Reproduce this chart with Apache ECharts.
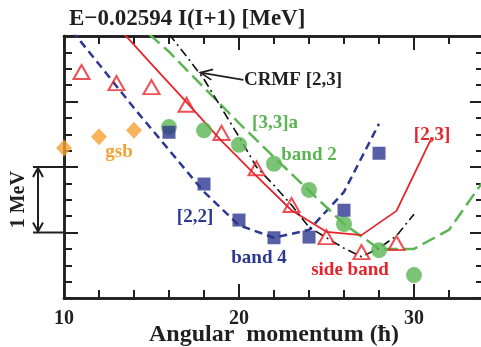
<!DOCTYPE html>
<html><head><meta charset="utf-8">
<script src="https://cdn.jsdelivr.net/npm/echarts@6/dist/echarts.min.js"></script>
<style>html,body{margin:0;padding:0;background:#fff;overflow:hidden}#c{width:481px;height:347px}</style>
</head><body><div id="c"></div>
<script>
// ---- data (spin I in hbar, energy E - 0.02594 I(I+1) in MeV, relative) ----
const gsbSpin = [10, 12, 14];
const gsbE = [2.29, 2.46, 2.56];
const band2Spin = [16, 18, 20, 22, 24, 26, 28, 30];
const band2E = [2.61, 2.56, 2.34, 2.05, 1.65, 1.13, 0.73, 0.35];
const band4Spin = [16, 18, 20, 22, 24, 26, 28];
const band4E = [2.53, 1.74, 1.19, 0.92, 0.93, 1.34, 2.21];
const sideSpin = [11, 13, 15, 17, 19, 21, 23, 25, 27, 29];
const sideE = [3.45, 3.28, 3.22, 2.95, 2.52, 1.98, 1.42, 0.93, 0.70, 0.84];
const th22Spin = [10, 12, 14, 16, 18, 20, 22, 24, 26, 28];
const th22E = [4.23, 3.57, 2.90, 2.26, 1.62, 1.11, 0.92, 1.04, 1.62, 2.66];
const th23Spin = [13, 15, 17, 19, 21, 23, 25, 27, 29, 31];
const th23E = [4.16, 3.57, 2.99, 2.40, 1.86, 1.34, 1.01, 0.96, 1.33, 2.44];
const th33Spin = [14, 16, 18, 20, 22, 24, 26, 28, 30, 32, 34];
const th33E = [4.23, 3.76, 3.21, 2.67, 2.15, 1.64, 1.13, 0.75, 0.75, 1.04, 1.80];
const crmfSpin = [16, 17, 18, 19, 20, 21, 22, 23, 24, 25, 26, 27, 28, 29, 30];
const crmfE = [4.03, 3.69, 3.34, 2.90, 2.46, 2.00, 1.72, 1.42, 1.08, 0.92, 0.76, 0.63, 0.76, 0.95, 1.28];
const xTickLabels = [10, 20, 30];
const scaleBar = [1, 2];           // the "1 MeV" bar spans E=1..2
const crmfArrow = [[20.25, 3.33], [17.8, 3.44]]; // tail, tip (data coords)

const FONT = '"Liberation Serif","Times New Roman",serif';
const AX = '#231f20';
const RED = '#e8242b', GREEN = '#5bb552', BLUE = '#2d3890', ORANGE = '#f5a132';

const pair = (xs, ys) => xs.map((x, i) => [x, ys[i]]);
const chart = echarts.init(document.getElementById('c'), null, {renderer: 'canvas'});

function xAx(pos, interval, len, labels) {
  return {
    type: 'value', position: pos, min: 10, max: 34, interval: interval,
    axisLine: {show: true, onZero: false, lineStyle: {color: AX, width: 2.5}},
    axisTick: {show: true, inside: true, length: len, lineStyle: {color: AX, width: 2}},
    axisLabel: {show: labels, margin: 11, fontFamily: FONT, fontWeight: 'bold', fontSize: 20, color: AX,
      formatter: v => (xTickLabels.indexOf(v) >= 0 ? String(v) : '')},
    splitLine: {show: false}
  };
}
function yAx(pos, interval, len) {
  return {
    type: 'value', position: pos, min: 0, max: 4, interval: interval,
    axisLine: {show: true, onZero: false, lineStyle: {color: AX, width: 2.5}},
    axisTick: {show: true, inside: true, length: len, lineStyle: {color: AX, width: 2}},
    axisLabel: {show: false}, splitLine: {show: false}
  };
}

const lineS = (name, xs, ys, color, width, type, z) => ({
  name, type: 'line', data: pair(xs, ys), showSymbol: false, symbol: 'none', z: z || 2,
  lineStyle: {color, width, type}, clip: true, animation: false
});
const scat = (name, xs, ys, symbol, size, item) => ({
  name, type: 'scatter', data: pair(xs, ys), symbol, symbolSize: size, z: 5,
  itemStyle: item, clip: false, animation: false
});

chart.setOption({
  animation: false,
  title: {text: 'E\u22120.02594 I(I+1) [MeV]', left: 64, top: 3,
    textStyle: {fontFamily: FONT, fontWeight: 'bold', fontSize: 23, color: AX}},
  grid: {left: 64, top: 36, width: 420, height: 262, containLabel: false, outerBoundsMode: 'none'},
  xAxis: [xAx('bottom', 2, 8, true), xAx('bottom', 10, 14, false), xAx('top', 2, 8, false), xAx('top', 10, 14, false)],
  yAxis: [yAx('left', 0.25, 8), yAx('left', 1, 14), yAx('right', 0.25, 8), yAx('right', 1, 14)],
  series: [
    lineS('[2,2]', th22Spin, th22E, BLUE, 2.5, [8, 5]),
    lineS('[3,3]a', th33Spin, th33E, GREEN, 2.5, [14, 6]),
    lineS('[2,3]', th23Spin, th23E, RED, 1.8, 'solid'),
    lineS('CRMF [2,3]', crmfSpin, crmfE, '#111', 1.6, [9, 4, 2, 4], 3),
    scat('gsb', gsbSpin, gsbE, 'diamond', [16, 17], {color: ORANGE}),
    scat('band 2', band2Spin, band2E, 'circle', 16, {color: GREEN}),
    scat('band 4', band4Spin, band4E, 'rect', 13, {color: BLUE}),
    scat('side band', sideSpin, sideE, 'triangle', [16, 14], {color: 'rgba(255,255,255,0)', borderColor: RED, borderWidth: 2})
  ]
});

// annotations
const P = (x, y) => chart.convertToPixel({xAxisIndex: 0, yAxisIndex: 0}, [x, y]);
const yA = P(10, scaleBar[0])[1], yB = P(10, scaleBar[1])[1];
const axX = P(10, 0)[0];
const barX = 38;
const ln = (x1, y1, x2, y2, color, w) => ({type: 'line', shape: {x1, y1, x2, y2}, style: {stroke: color, lineWidth: w}, z: 10});
const pl = (pts, color, w) => ({type: 'polyline', shape: {points: pts}, style: {stroke: color, lineWidth: w, fill: null}, z: 10});
const txt = (t, x, y, color, size, extra) => Object.assign({type: 'text', x, y, z: 11,
  style: {text: t, fill: color, font: 'bold ' + size + 'px ' + FONT, textAlign: 'center', textVerticalAlign: 'middle'}}, extra || {});

const tail = P(crmfArrow[0][0], crmfArrow[0][1]);
const tip = P(crmfArrow[1][0], crmfArrow[1][1]);
const dx = tail[0] - tip[0], dy = tail[1] - tip[1], L = Math.hypot(dx, dy);
const ux = dx / L, uy = dy / L, hl = 13, ang = 0.42;
const rot = (a) => [tip[0] + hl * (ux * Math.cos(a) - uy * Math.sin(a)), tip[1] + hl * (ux * Math.sin(a) + uy * Math.cos(a))];

chart.setOption({graphic: [
  ln(33, yA, axX, yA, AX, 2), ln(33, yB, axX, yB, AX, 2),
  ln(barX, yB + 1, barX, yA - 1, AX, 2),
  pl([[barX - 5, yB + 10], [barX, yB + 1], [barX + 5, yB + 10]], AX, 2),
  pl([[barX - 5, yA - 10], [barX, yA - 1], [barX + 5, yA - 10]], AX, 2),
  txt('1 MeV', 19, (yA + yB) / 2, AX, 20, {rotation: Math.PI / 2}),
  txt('Angular  momentum (\u0127)', 274, 335, AX, 24),
  ln(tail[0], tail[1], tip[0], tip[1], AX, 1.8),
  pl([rot(ang), tip, rot(-ang)], AX, 1.8),
  txt('CRMF [2,3]', 293, 80, AX, 19),
  txt('gsb', 119, 152, ORANGE, 19),
  txt('[2,2]', 195, 217, BLUE, 19),
  txt('band 4', 259, 258, BLUE, 19),
  txt('side band', 350, 270, RED, 19),
  txt('[2,3]', 432, 135, RED, 19),
  txt('[3,3]a', 275, 123, GREEN, 19),
  txt('band 2', 309, 155, GREEN, 19)
]});
</script></body></html>
